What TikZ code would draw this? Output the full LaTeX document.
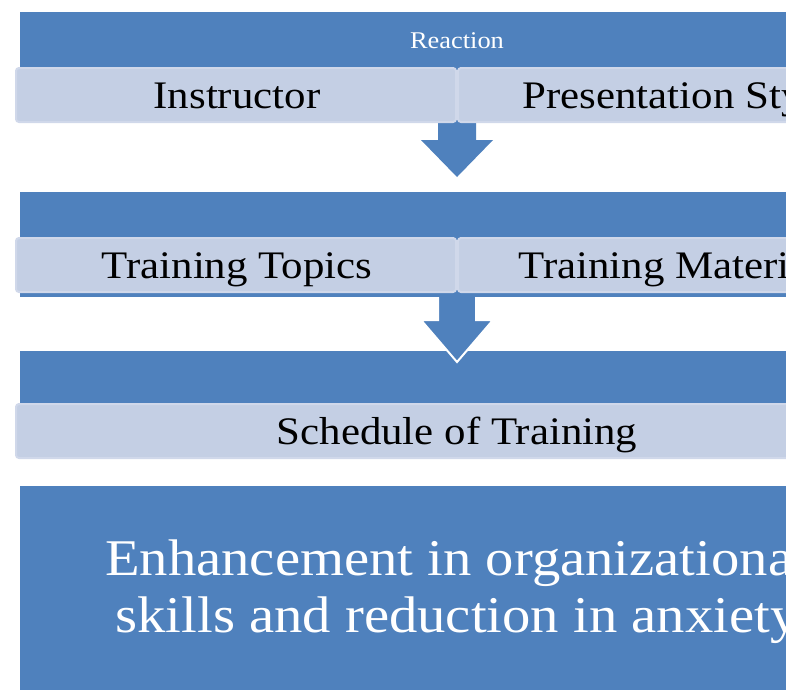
\documentclass[tikz,border=0pt]{standalone}
\usepackage{fontspec}
\setmainfont[FakeStretch=1.1]{Liberation Serif}
\usetikzlibrary{calc}
\definecolor{accblue}{HTML}{4F81BD}
\definecolor{lightfill}{HTML}{C4CFE4}
\definecolor{lightedge}{HTML}{D0D8EA}
\tikzset{
  header/.style={fill=accblue, draw=none, minimum width=874pt, anchor=north west, inner sep=0pt, outer sep=0pt},
  cellbox/.style={fill=lightfill, draw=lightedge, line width=2pt, rounded corners=3pt, anchor=north west, minimum height=54pt, inner sep=0pt, outer sep=0pt},
  celltext/.style={anchor=base, font=\fontsize{39}{46}\selectfont, text=black, inner sep=0pt},
  smalltext/.style={anchor=base, font=\fontsize{24}{28}\selectfont, text=white, inner sep=0pt},
  bigtext/.style={anchor=base, font=\fontsize{51.5}{58}\selectfont, text=white, inner sep=0pt},
  arrowfill/.style={fill=accblue, draw=none},
  arrowedge/.style={draw=white, line width=2pt, line join=miter}
}
\begin{document}
\begin{tikzpicture}[x=1pt, y=-1pt]
\useasboundingbox (0,0) rectangle (786,689);
\clip (0,0) rectangle (786,689);
\fill[white] (0,0) rectangle (786,689);

% block 1
\node[header, minimum height=105pt] (hdr1) at (20,12) {};
\node[smalltext] (reaction) at (457,48) {Reaction};
% arrow 1
\coordinate (a1top) at (457,123);
\coordinate (a1tip) at (457,177);
\fill[arrowfill] ($(a1top)+(-19,-4)$) -- ($(a1top)+(19,-4)$) -- ($(a1tip)+(19,-37)$) -- ($(a1tip)+(36,-37)$) -- (a1tip) -- ($(a1tip)+(-36,-37)$) -- ($(a1tip)+(-19,-37)$) -- cycle;
\node[cellbox, minimum width=440pt] (c1a) at (16,68) {};
\node[cellbox, minimum width=440pt] (c1b) at (458,68) {};
\node[celltext] (t1a) at (237,108) {Instructor};
\node[celltext] (t1b) at (678,108) {Presentation Style};

% block 2
\node[header, minimum height=105pt] (hdr2) at (20,192) {};
\node[cellbox, minimum width=440pt] (c2a) at (16,238) {};
\node[cellbox, minimum width=440pt] (c2b) at (458,238) {};
\node[celltext] (t2a) at (237,278) {Training Topics};
\node[celltext] (t2b) at (678,278) {Training Materials};

% block 3
\node[header, minimum height=104pt] (hdr3) at (20,351) {};
\node[cellbox, minimum width=882pt] (c3) at (16,404) {};
\node[celltext] (t3) at (457,444) {Schedule of Training};

% arrow 2 (drawn over block 3 header, with white outline)
\coordinate (a2top) at (457,297);
\coordinate (a2tip) at (457,362);
\fill[arrowfill] ($(a2top)+(-19,0)$) -- ($(a2top)+(19,0)$) -- ($(a2tip)+(19,-42)$) -- ($(a2tip)+(36,-42)$) -- (a2tip) -- ($(a2tip)+(-36,-42)$) -- ($(a2tip)+(-19,-42)$) -- cycle;
\draw[arrowedge] ($(a2top)+(-19,0)$) -- ($(a2tip)+(-19,-42)$) -- ($(a2tip)+(-36,-42)$) -- (a2tip) -- ($(a2tip)+(36,-42)$) -- ($(a2tip)+(19,-42)$) -- ($(a2top)+(19,0)$);

% block 4
\node[header, minimum height=240pt] (hdr4) at (20,486) {};
\node[bigtext] (big1) at (457,575) {Enhancement in organizational};
\node[bigtext] (big2) at (457,632) {skills and reduction in anxiety};
\end{tikzpicture}
\end{document}
